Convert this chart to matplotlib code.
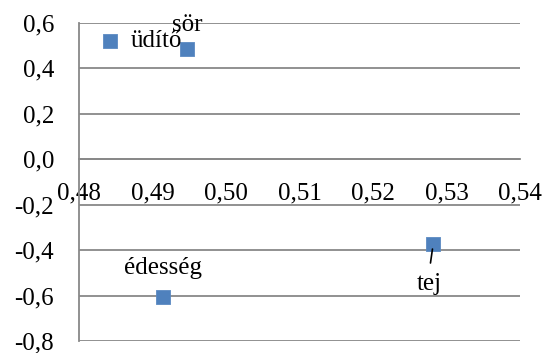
import matplotlib
matplotlib.use("Agg")
import matplotlib.pyplot as plt
from matplotlib.ticker import FuncFormatter

names = ["üdítő", "sör", "édesség", "tej"]
x_vals = [0.4842, 0.4947, 0.4914, 0.5282]
y_vals = [0.52, 0.486, -0.605, -0.371]
x_ticks = [0.48, 0.49, 0.50, 0.51, 0.52, 0.53, 0.54]
y_ticks = [-0.8, -0.6, -0.4, -0.2, 0.0, 0.2, 0.4, 0.6]

plt.rcParams['font.family'] = ['Liberation Serif', 'DejaVu Serif']
FS = 18

fig = plt.figure(figsize=(5.47, 3.53), dpi=100)
ax = fig.add_axes([0.1444, 0.034, 0.8062, 0.9008])

grid_c = '#888888'
for yv in y_ticks:
    ax.axhline(yv, color=grid_c, lw=1.3, zorder=1)

ax.scatter(x_vals, y_vals, marker='s', s=110, color='#4F81BD',
           edgecolors='#5B8AC2', linewidths=0.6, zorder=3)

offsets = {
    "üdítő": (15, 0, 'left', 'center'),
    "sör": (0, 9, 'center', 'bottom'),
    "édesség": (0, 21, 'center', 'center'),
    "tej": (-3, -29, 'center', 'center'),
}
for n, xv, yv in zip(names, x_vals, y_vals):
    dx, dy, ha, va = offsets[n]
    ax.annotate(n, (xv, yv), xytext=(dx, dy), textcoords='offset points',
                ha=ha, va=va, fontsize=FS, zorder=4)

# leader line for "tej"
ax.annotate("", (x_vals[3], y_vals[3]), xytext=(-2, -14), textcoords='offset points',
            xycoords='data',
            arrowprops=dict(arrowstyle='-', color='black', lw=1.2,
                            shrinkA=0, shrinkB=4))

ax.set_xlim(0.48, 0.54)
ax.set_ylim(-0.8, 0.6)
ax.set_xticks(x_ticks)
ax.set_yticks(y_ticks)
fmt = FuncFormatter(lambda v, p: f"{v:.2f}".replace('.', ','))
fmty = FuncFormatter(lambda v, p: f"{v:.1f}".replace('.', ','))
ax.xaxis.set_major_formatter(fmt)
ax.yaxis.set_major_formatter(fmty)

for s in ['top', 'right']:
    ax.spines[s].set_visible(False)
ax.spines['bottom'].set_position(('data', 0))
ax.spines['bottom'].set_color(grid_c)
ax.spines['bottom'].set_linewidth(1.3)
ax.spines['left'].set_color(grid_c)
ax.spines['left'].set_linewidth(1.3)
ax.tick_params(axis='x', length=0, pad=17, labelsize=FS)
ax.tick_params(axis='y', length=0, pad=18, labelsize=FS)

fig.savefig("out.png", dpi=100)
